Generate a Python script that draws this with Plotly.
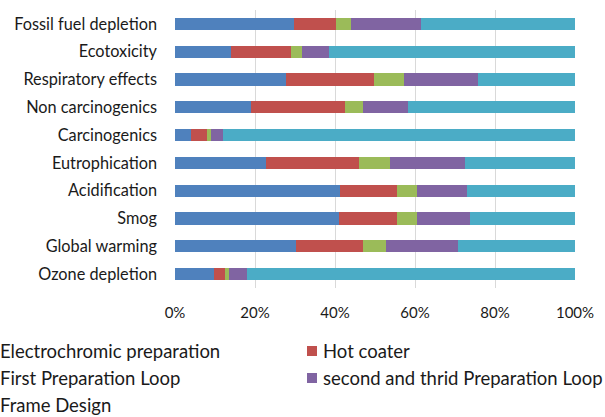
import plotly.graph_objects as go

categories = ["Fossil fuel depletion", "Ecotoxicity", "Respiratory effects", "Non carcinogenics",
              "Carcinogenics", "Eutrophication", "Acidification", "Smog", "Global warming",
              "Ozone depletion"]

electrochromic = [29.8, 14.0, 27.8, 18.9, 4.1, 22.8, 41.2, 40.9, 30.2, 9.7]
hot_coater = [10.5, 15.0, 21.9, 23.6, 3.8, 23.3, 14.4, 14.5, 16.8, 2.9]
first_loop = [3.7, 2.7, 7.5, 4.6, 1.1, 7.7, 4.9, 5.1, 5.7, 1.0]
second_third_loop = [17.6, 6.9, 18.6, 11.1, 3.1, 18.7, 12.4, 13.2, 18.1, 4.5]
frame_design = [38.4, 61.4, 24.2, 41.8, 87.9, 27.5, 27.1, 26.3, 29.2, 81.9]

tick_vals = [0, 20, 40, 60, 80, 100]
tick_text = ["0%", "20%", "40%", "60%", "80%", "100%"]

series = [
    ("Electrochromic preparation", electrochromic, "#4F81BD"),
    ("Hot coater", hot_coater, "#C0504D"),
    ("First Preparation Loop", first_loop, "#9BBB59"),
    ("second and thrid Preparation Loop", second_third_loop, "#8064A2"),
    ("Frame Design", frame_design, "#4BACC6"),
]

FONT = "Lato"
TEXT = "#1a1a1a"

fig = go.Figure()
for name, vals, color in series:
    fig.add_trace(go.Bar(y=categories, x=vals, name=name, orientation="h",
                         marker=dict(color=color, line=dict(width=0))))

fig.update_layout(
    width=605, height=417,
    barmode="stack", bargap=0.56,
    showlegend=False,
    plot_bgcolor="white", paper_bgcolor="white",
    margin=dict(l=175, r=30, t=10, b=129),
    font=dict(family=FONT, size=14, color=TEXT),
)
fig.update_xaxes(range=[0, 100], tickvals=tick_vals, ticktext=tick_text,
                 showgrid=True, gridcolor="#D9D9D9", gridwidth=1, zeroline=False,
                 showline=False, ticks="", ticklabelstandoff=14,
                 tickfont=dict(family=FONT, size=15, color=TEXT))
fig.update_yaxes(autorange="reversed", showgrid=False, showline=False, ticks="",
                 ticklabelstandoff=17, tickfont=dict(family=FONT, size=16.3, color=TEXT))

# legend laid out in two columns below the axis
legend_items = [
    ("Electrochromic preparation", None, 0, 351),
    ("Hot coater", "#C0504D", 323, 351),
    ("First Preparation Loop", None, 0, 378),
    ("second and thrid Preparation Loop", "#8064A2", 323, 378),
    ("Frame Design", None, 0, 405),
]
for text, color, x, y in legend_items:
    fig.add_annotation(xref="paper", yref="paper",
                       x=(x - 175) / 400, y=(417 - 129 - y) / 278,
                       text=text, showarrow=False, xanchor="left", yanchor="middle",
                       xshift=-2, font=dict(family=FONT, size=18.5, color=TEXT))
    if color:
        fig.add_shape(type="rect", xref="paper", yref="paper",
                      x0=(307 - 175) / 400, x1=(317 - 175) / 400,
                      y0=(417 - 129 - (y + 5)) / 278, y1=(417 - 129 - (y - 5)) / 278,
                      fillcolor=color, line=dict(width=0))

fig.write_html("out.html")
